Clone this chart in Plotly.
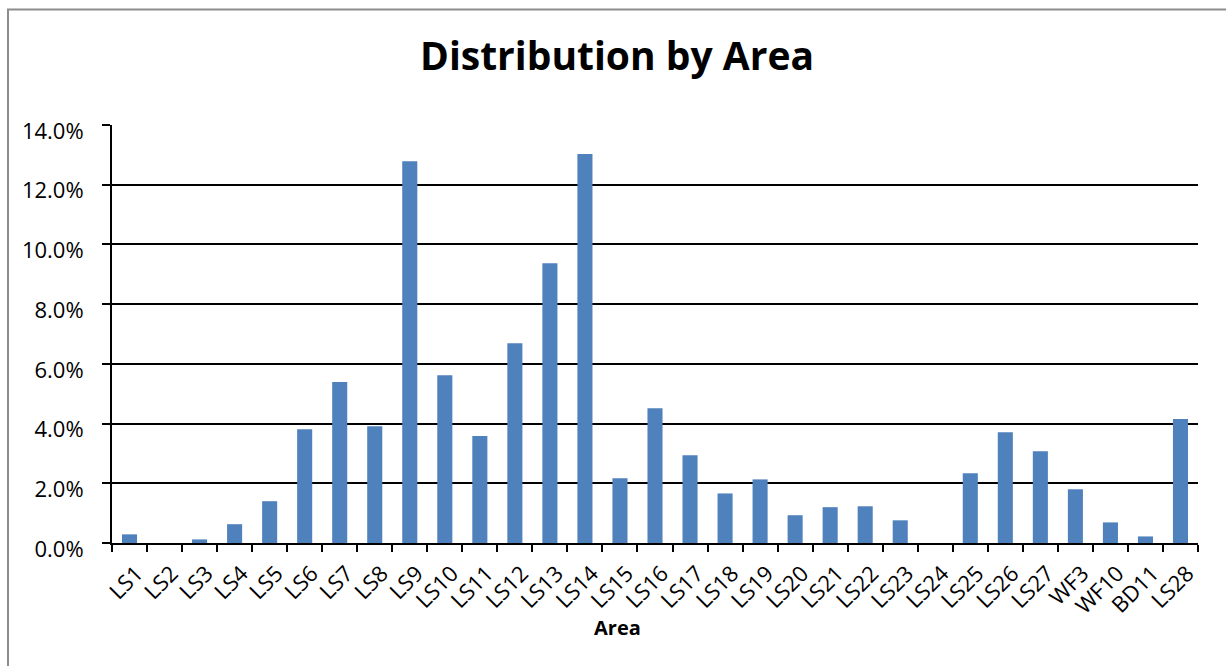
import plotly.graph_objects as go

# Share of records per area
areas = ["LS1", "LS2", "LS3", "LS4", "LS5", "LS6", "LS7", "LS8", "LS9", "LS10",
         "LS11", "LS12", "LS13", "LS14", "LS15", "LS16", "LS17", "LS18", "LS19", "LS20",
         "LS21", "LS22", "LS23", "LS24", "LS25", "LS26", "LS27", "WF3", "WF10", "BD11", "LS28"]
share = [0.0029, 0.0, 0.0012, 0.0063, 0.0140, 0.0381, 0.0539, 0.0391, 0.1279, 0.0562,
         0.0358, 0.0669, 0.0937, 0.1303, 0.0217, 0.0451, 0.0294, 0.0166, 0.0213, 0.0093,
         0.0120, 0.0123, 0.0076, 0.0, 0.0234, 0.0371, 0.0307, 0.0180, 0.0069, 0.0022, 0.0415]
y_ticks = [0.0, 0.02, 0.04, 0.06, 0.08, 0.10, 0.12, 0.14]

W, H = 1226, 666
L, R, T, B = 112, 28, 125, 123
plot_w = W - L - R
plot_h = H - T - B
CENTER_X = 617  # horizontal centre of the framed chart area

FONT = "Open Sans"

fig = go.Figure(
    go.Bar(
        x=areas,
        y=share,
        marker=dict(color="#4F81BD", line=dict(width=0)),
    )
)

fig.update_layout(
    width=W,
    height=H,
    margin=dict(l=L, r=R, t=T, b=B),
    paper_bgcolor="white",
    plot_bgcolor="white",
    bargap=0.57,
    showlegend=False,
    font=dict(family=FONT, color="black", size=20),
    title=dict(
        text="<b>Distribution by Area</b>",
        x=CENTER_X / W,
        xanchor="center",
        y=1 - 56 / H,
        yanchor="middle",
        font=dict(family=FONT, size=39, color="black"),
    ),
    xaxis=dict(
        type="category",
        tickangle=-45,
        ticks="outside",
        tickson="boundaries",
        ticklen=7,
        tickwidth=2,
        tickcolor="black",
        ticklabelstandoff=7,
        ticklabelshift=7,
        showline=True,
        linecolor="black",
        linewidth=2,
        showgrid=False,
        tickfont=dict(family=FONT, size=22, color="black"),
    ),
    yaxis=dict(
        range=[0, 0.14],
        tickvals=y_ticks,
        tickformat=".1%",
        ticks="outside",
        ticklen=8,
        tickwidth=2,
        tickcolor="black",
        ticklabelstandoff=14,
        ticklabelshift=6,
        showline=True,
        linecolor="black",
        linewidth=2,
        showgrid=True,
        gridcolor="black",
        gridwidth=2,
        zeroline=False,
        tickfont=dict(family=FONT, size=22, color="black"),
    ),
    annotations=[
        dict(
            text="<b>Area</b>",
            x=(CENTER_X - L) / plot_w,
            y=(T + plot_h - 627) / plot_h,
            xref="paper",
            yref="paper",
            xanchor="center",
            yanchor="middle",
            showarrow=False,
            font=dict(family=FONT, size=20, color="black"),
        )
    ],
    shapes=[
        # chart-area frame
        dict(
            type="rect",
            xref="paper",
            yref="paper",
            x0=(8 - L) / plot_w,
            x1=(W + 20 - L) / plot_w,
            y0=(T + plot_h - (H + 20)) / plot_h,
            y1=(T + plot_h - 9.5) / plot_h,
            line=dict(color="#8c8c8c", width=2),
            fillcolor="rgba(0,0,0,0)",
            layer="below",
        )
    ],
)

fig.write_html("out.html")
